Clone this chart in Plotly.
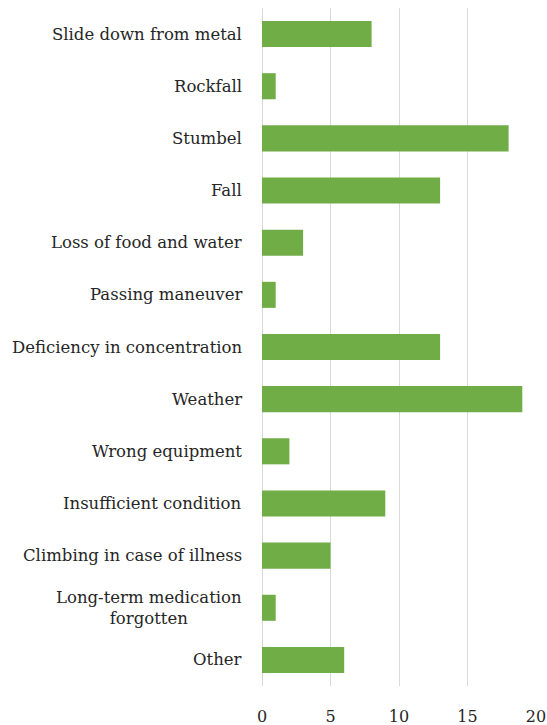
import plotly.graph_objects as go

categories = [
    "Slide down from metal",
    "Rockfall",
    "Stumbel",
    "Fall",
    "Loss of food and water",
    "Passing maneuver",
    "Deficiency in concentration",
    "Weather",
    "Wrong equipment",
    "Insufficient condition",
    "Climbing in case of illness",
    "Long-term medication<br>forgotten",
    "Other",
]
values = [8, 1, 18, 13, 3, 1, 13, 19, 2, 9, 5, 1, 6]
x_ticks = [0, 5, 10, 15, 20]

FONT = "DejaVu Serif"
FS = 16.5
TXT = "#262626"

fig = go.Figure(
    go.Bar(
        y=categories,
        x=values,
        orientation="h",
        marker=dict(color="#70ad47", line=dict(width=0)),
        width=0.5,
        hoverinfo="skip",
    )
)

for c in categories:
    fig.add_annotation(
        x=0, xref="paper", y=c, yref="y",
        text=c, showarrow=False, xanchor="right", xshift=-18,
        align="center", font=dict(family=FONT, size=FS, color=TXT),
    )

fig.update_layout(
    width=547, height=725,
    margin=dict(l=262, r=11, t=8, b=39, autoexpand=False),
    paper_bgcolor="white", plot_bgcolor="white",
    showlegend=False,
    font=dict(family=FONT, size=FS, color=TXT),
)
fig.update_xaxes(
    range=[0, 20], tickvals=x_ticks, showgrid=True, gridcolor="#d9d9d9",
    gridwidth=1, zeroline=True, zerolinecolor="#d9d9d9", zerolinewidth=1,
    showline=False, ticks="outside", ticklen=16, tickcolor="rgba(0,0,0,0)",
    tickfont=dict(family=FONT, size=16, color=TXT), automargin=False,
    fixedrange=True,
)
fig.update_yaxes(
    categoryorder="array", categoryarray=categories, autorange="reversed",
    showticklabels=False, showgrid=False, zeroline=False, showline=False,
    automargin=False, fixedrange=True,
)

fig.write_html(
    "out.html",
    config={"displayModeBar": False},
    post_script="document.body.style.margin='0';document.body.style.overflow='hidden';",
)
